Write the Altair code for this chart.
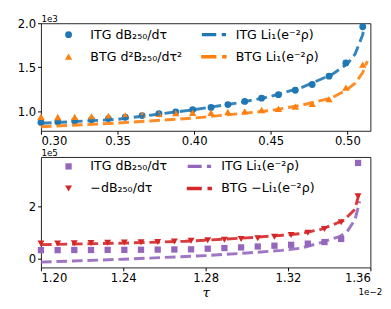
import altair as alt
import pandas as pd

# ---------------- top panel data (tau, values in units of 1e3) ----------------
tau_top = [0.300, 0.311, 0.322, 0.333, 0.344, 0.355, 0.366, 0.377, 0.388, 0.399,
           0.411, 0.422, 0.433, 0.444, 0.455, 0.466, 0.477, 0.488, 0.499, 0.510]
itg_dB = [0.875, 0.881, 0.892, 0.906, 0.919, 0.934, 0.953, 0.973, 0.995, 1.020,
          1.045, 1.077, 1.113, 1.150, 1.190, 1.240, 1.305, 1.400, 1.550, 1.960]
btg_d2B = [0.940, 0.937, 0.937, 0.942, 0.948, 0.955, 0.962, 0.972, 0.980, 0.985,
           0.985, 0.993, 1.000, 1.016, 1.030, 1.055, 1.085, 1.140, 1.270, 1.530]
curve_tau_itg = [0.300, 0.350, 0.400, 0.430, 0.450, 0.470, 0.490, 0.500, 0.505, 0.510, 0.511]
curve_itg = [0.865, 0.910, 1.020, 1.100, 1.170, 1.270, 1.420, 1.540, 1.650, 1.870, 1.980]
curve_tau_btg = [0.300, 0.350, 0.400, 0.430, 0.450, 0.470, 0.490, 0.500, 0.505, 0.510, 0.513]
curve_btg = [0.826, 0.868, 0.925, 0.975, 1.010, 1.070, 1.155, 1.250, 1.320, 1.440, 1.570]

# ---------------- bottom panel data (tau in 1e-2, values in 1e5) ----------------
tau_bot = [1.2000, 1.2081, 1.2162, 1.2243, 1.2324, 1.2405, 1.2486, 1.2567, 1.2648, 1.2729,
           1.2810, 1.2891, 1.2972, 1.3053, 1.3134, 1.3215, 1.3296, 1.3377, 1.3458, 1.3540]
itg_dB_b = [0.33, 0.33, 0.335, 0.335, 0.34, 0.34, 0.345, 0.35, 0.355, 0.36,
            0.385, 0.41, 0.435, 0.47, 0.50, 0.535, 0.58, 0.64, 0.76, 3.68]
neg_dB_b = [0.58, 0.585, 0.59, 0.60, 0.61, 0.62, 0.63, 0.645, 0.66, 0.69,
            0.71, 0.73, 0.76, 0.79, 0.84, 0.91, 1.00, 1.14, 1.40, 2.40]
curve_tau_itg_b = [1.200, 1.240, 1.280, 1.300, 1.317, 1.3266, 1.336, 1.345, 1.3486, 1.3525, 1.354, 1.3548]
curve_itg_b = [-0.13, -0.02, 0.12, 0.22, 0.32, 0.41, 0.62, 0.85, 1.03, 1.50, 1.95, 2.20]
curve_tau_btg_b = [1.200, 1.240, 1.270, 1.300, 1.3172, 1.3266, 1.336, 1.347, 1.3525, 1.3545]
curve_btg_b = [0.54, 0.60, 0.67, 0.80, 0.90, 0.97, 1.13, 1.47, 1.90, 2.52]

x_ticks_top = [0.30, 0.35, 0.40, 0.45, 0.50]
y_ticks_top = [1.0, 1.5, 2.0]
x_ticks_bot = [1.20, 1.24, 1.28, 1.32, 1.36]
y_ticks_bot = [0, 2]

# legend labels
T1 = "ITG dB₂₅₀/dτ"
T2 = "BTG d²B₂₅₀/dτ²"
T3 = "ITG Li₁(e⁻²ρ)"
T4 = "BTG Li₁(e⁻²ρ)"
B1 = "ITG dB₂₅₀/dτ"
B2 = "−dB₂₅₀/dτ"
B3 = "ITG Li₁(e⁻²ρ)"
B4 = "BTG −Li₁(e⁻²ρ)"

BLUE, ORANGE, PURPLE, RED = "#1f77b4", "#ff7f0e", "#9467bd", "#d62728"
DASH = "M-3.1,-0.42H0.6V0.42H-3.1Z M2.0,-0.42H3.1V0.42H2.0Z"

pts_top = pd.DataFrame({"tau": tau_top * 2, "val": itg_dB + btg_d2B,
                        "st": [T1] * len(tau_top) + [T2] * len(tau_top)})
lin_top = pd.DataFrame({"tau": curve_tau_itg + curve_tau_btg, "val": curve_itg + curve_btg,
                        "st": [T3] * len(curve_tau_itg) + [T4] * len(curve_tau_btg)})
pts_bot = pd.DataFrame({"tau": tau_bot * 2, "val": itg_dB_b + neg_dB_b,
                        "sb": [B1] * len(tau_bot) + [B2] * len(tau_bot)})
lin_bot = pd.DataFrame({"tau": curve_tau_itg_b + curve_tau_btg_b, "val": curve_itg_b + curve_btg_b,
                        "sb": [B3] * len(curve_tau_itg_b) + [B4] * len(curve_tau_btg_b)})


def panel(pts, lin, dom, cols, shapes, sizes, xdom, ydom, xticks, yticks, yfmt, ytitle, height,
          legend_x, legend_y, colpad, show_xtitle, field):
    cscale = alt.Scale(domain=dom, range=cols)
    sscale = alt.Scale(domain=dom, range=shapes)
    zscale = alt.Scale(domain=dom, range=sizes)
    if show_xtitle:
        xaxis = alt.Axis(values=xticks, format=".2f", title="τ",
                         titleFont="DejaVu Serif", titleFontStyle="italic", titleFontSize=14,
                         titleFontWeight="normal", titlePadding=2)
    else:
        xaxis = alt.Axis(values=xticks, format=".2f", title=None)
    x = alt.X("tau:Q", scale=alt.Scale(domain=xdom, nice=False, zero=False), axis=xaxis)
    y = alt.Y("val:Q", scale=alt.Scale(domain=ydom, nice=False, zero=False),
              axis=alt.Axis(values=yticks, format=yfmt, title=ytitle, titleAngle=0,
                            titleX=0, titleY=-2, titleAlign="left", titleBaseline="alphabetic",
                            titleFontSize=9, titleFontWeight="normal", titleFont="DejaVu Sans"))
    legend = alt.Legend(title=None, orient="none", legendX=legend_x, legendY=legend_y,
                        columns=2, columnPadding=colpad, rowPadding=9, symbolSize=50,
                        labelFontSize=13, labelFont="DejaVu Sans", labelLimit=300,
                        labelOffset=16, padding=0, symbolStrokeWidth=0, values=dom)
    points = alt.Chart(pts).mark_point(filled=True, opacity=1).encode(
        x=x, y=y,
        color=alt.Color(f"{field}:N", scale=cscale, legend=legend),
        shape=alt.Shape(f"{field}:N", scale=sscale, legend=legend),
        size=alt.Size(f"{field}:N", scale=zscale, legend=None),
    )
    lines = alt.Chart(lin).mark_line(strokeDash=[11, 5], strokeWidth=3, opacity=0.9).encode(
        x=x, y=y,
        color=alt.Color(f"{field}:N", scale=cscale, legend=None),
    )
    return alt.layer(points, lines).properties(width=340, height=height)


top = panel(pts_top, lin_top, [T1, T2, T3, T4], [BLUE, ORANGE, BLUE, ORANGE],
            ["circle", "triangle-up", DASH, DASH], [50, 72, 50, 50], [0.30, 0.515], [0.78, 2.0],
            x_ticks_top, y_ticks_top, ".1f", "1e3", 111, 22, 5, 19, False, "st")

bot_main = panel(pts_bot, lin_bot, [B1, B2, B3, B4], [PURPLE, RED, PURPLE, RED],
                 ["square", "triangle-down", DASH, DASH], [42, 70, 50, 50], [1.20, 1.36], [-0.335, 3.91],
                 x_ticks_bot, y_ticks_bot, "d", "1e5", 114, 22, 3, 19, True, "sb")

note = alt.Chart(pd.DataFrame({"t": ["1e−2"]})).mark_text(
    fontSize=9, font="DejaVu Sans", align="center", baseline="middle", color="black"
).encode(x=alt.value(340), y=alt.value(139), text="t:N")

bot = alt.layer(bot_main, note).properties(width=340, height=114)

chart = alt.vconcat(top, bot, spacing=27, bounds="flush").resolve_scale(
    color="independent", shape="independent", size="independent",
    x="independent", y="independent"
).resolve_legend(color="independent", shape="independent").properties(
    padding={"left": 8, "top": 1, "right": 0, "bottom": 0}
).configure_view(stroke="#222", strokeWidth=1).configure_axis(
    labelFontSize=12, labelFont="DejaVu Sans", labelColor="black", grid=False,
    domain=False, tickColor="black", tickSize=3.5, tickWidth=1, labelPadding=2,
    titleColor="black"
).configure_concat(spacing=27)

chart.save("out.html", embed_options={"renderer": "svg", "actions": False})
